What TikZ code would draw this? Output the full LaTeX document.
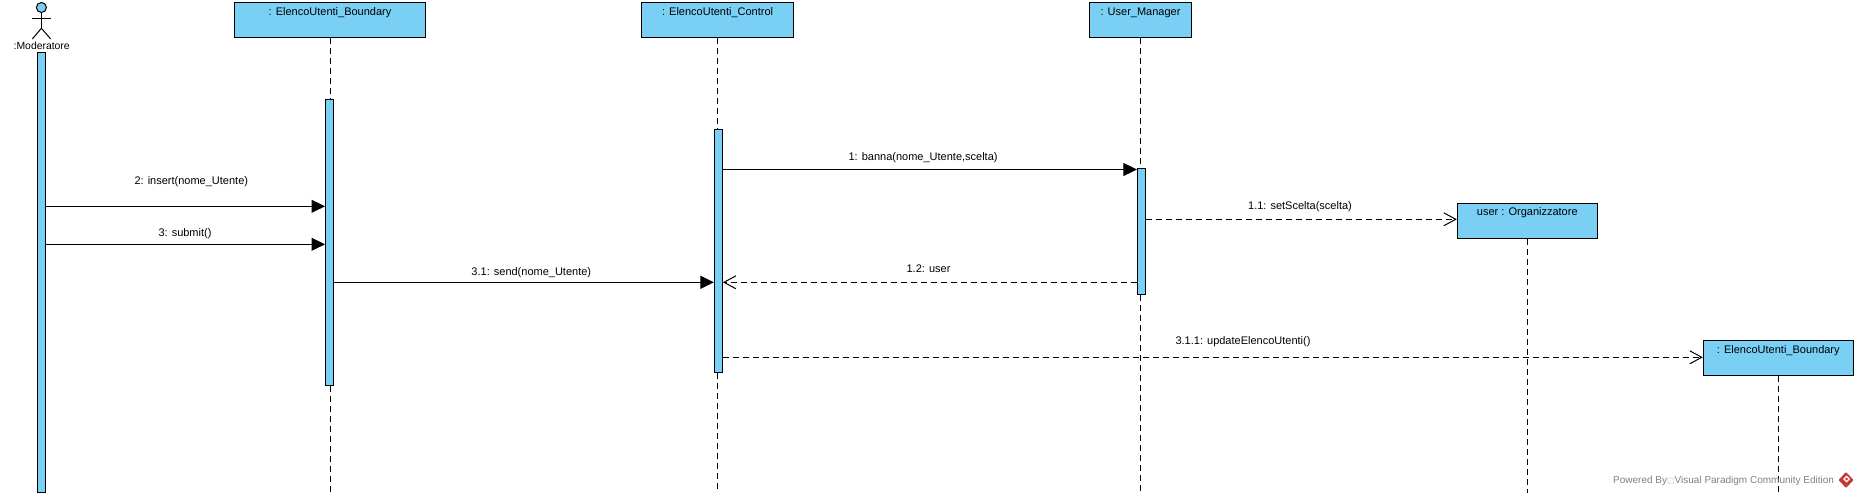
\documentclass[tikz,border=0pt]{standalone}
\usepackage{fontspec}
\setmainfont{Liberation Sans}
\newfontfamily\boxfont{DejaVu Sans}
\usetikzlibrary{arrows.meta}
\definecolor{vpblue}{RGB}{122,207,245}
\definecolor{vpgray}{RGB}{128,128,128}
\definecolor{vpred}{RGB}{200,55,55}
\tikzset{every picture/.style={line width=1pt}}
\tikzset{
  lifebox/.style={draw=black,fill=vpblue,inner sep=0pt,anchor=north,text height=12.2pt,text depth=22.6pt,font=\fontsize{11}{13}\selectfont},
  lifeline/.style={draw=black,dash pattern={on 6pt off 4pt}},
  activation/.style={draw=black,fill=vpblue,inner sep=0pt,minimum width=8pt,anchor=north},
  msgtext/.style={inner sep=0pt,font=\fontsize{11}{13}\selectfont},
  syncmsg/.style={-{Triangle[length=13.5pt,width=13pt]}},
  replymsg/.style={dash pattern={on 6pt off 4pt},-{Straight Barb[length=12pt,width=13pt]}}
}

\begin{document}
\begin{tikzpicture}[x=1pt,y=1pt,yscale=-1,xscale=1]
\useasboundingbox (0,0) rectangle (1858,497);

% Rows of the messages
\coordinate (rowBanna) at (0,169.5);
\coordinate (rowScelta) at (0,219.3);
\coordinate (rowInsert) at (0,206.3);
\coordinate (rowSubmit) at (0,244.3);
\coordinate (rowSend) at (0,282.3);
\coordinate (rowUpdate) at (0,357.3);
\coordinate (pageEnd) at (0,493);

%Shape: Actor
\node (modHead) [circle,draw=black,fill=vpblue,inner sep=0pt,minimum size=10pt] at (41.4,7.5) {};
\coordinate (modHip) at (41.4,28.3);
\coordinate (modArmL) at (32.3,18.3);
\coordinate (modArmR) at (50.7,18.3);
\coordinate (modFootL) at (32.3,39);
\coordinate (modFootR) at (50.7,39);
\draw (modHead.south) -- (modHip);
\draw (modArmL) -- (modArmR);
\draw (modFootL) -- (modHip) -- (modFootR);
% Text Node
\node (modText) [msgtext,font=\fontsize{10.4}{13}\selectfont] at (41.7,45.5) {:Moderatore};

%Shape: Lifeline heads
\node (boundary) [lifebox,minimum width=191pt] at (330,2.4) {: ElencoUtenti\_Boundary};
\node (control) [lifebox,minimum width=151.5pt] at (717.6,2.4) {: ElencoUtenti\_Control};
\node (manager) [lifebox,minimum width=102pt] at (1140.5,2.4) {: User\_Manager};
\node (organizer) [lifebox,minimum width=140pt] at (1527.3,203.3) {user : Organizzatore};
\node (boundaryTwo) [lifebox,minimum width=150pt] at (1778.3,340.3) {: ElencoUtenti\_Boundary};

%Shape: Activations
\node (modAct) [activation,minimum height=439.5pt] at (41.5,52.5) {};
\node (boundaryAct) [activation,minimum height=285.2pt] at (329.5,99.3) {};
\node (controlAct) [activation,minimum height=243pt] at (718.4,129.3) {};
\node (managerAct) [activation,minimum height=126pt] at (1141.4,168.3) {};

%Straight Lines
\draw [lifeline] (boundary.south) -- (boundaryAct.north -| boundary.south);
\draw [lifeline] (boundaryAct.south -| boundary.south) -- (boundary.south |- pageEnd);
\draw [lifeline] (control.south) -- (controlAct.north -| control.south);
\draw [lifeline] (controlAct.south -| control.south) -- (control.south |- pageEnd);
\draw [lifeline] (manager.south) -- (managerAct.north -| manager.south);
\draw [lifeline] (managerAct.south -| manager.south) -- (manager.south |- pageEnd);
\draw [lifeline] (organizer.south) -- (organizer.south |- pageEnd);
\draw [lifeline] (boundaryTwo.south) -- (boundaryTwo.south |- pageEnd);

%Straight Lines
\draw [syncmsg] (controlAct.east |- rowBanna) -- (managerAct.west |- rowBanna);
\draw [syncmsg] (modAct.east |- rowInsert) -- (boundaryAct.west |- rowInsert);
\draw [syncmsg] (modAct.east |- rowSubmit) -- (boundaryAct.west |- rowSubmit);
\draw [syncmsg] (boundaryAct.east |- rowSend) -- (controlAct.west |- rowSend);
\draw [replymsg] (managerAct.east |- rowScelta) -- (organizer.west |- rowScelta);
\draw [replymsg] (managerAct.west |- rowSend) -- (controlAct.east |- rowSend);
\draw [replymsg] (controlAct.east |- rowUpdate) -- (boundaryTwo.west |- rowUpdate);

% Text Node
\node (bannaText) [msgtext] at (923.1,157.5) {1: banna(nome\_Utente,scelta)};
% Text Node
\node (sceltaText) [msgtext] at (1300,207) {1.1: setScelta(scelta)};
% Text Node
\node (userText) [msgtext] at (928.5,269) {1.2: user};
% Text Node
\node (insertText) [msgtext] at (191.3,181.5) {2: insert(nome\_Utente)};
% Text Node
\node (submitText) [msgtext] at (185,233.5) {3: submit()};
% Text Node
\node (sendText) [msgtext] at (531.3,273) {3.1: send(nome\_Utente)};
% Text Node
\node (updateText) [msgtext] at (1243,341.5) {3.1.1: updateElencoUtenti()};
% Text Node
\node (poweredText) [inner sep=0pt,font=\fontsize{10}{12}\selectfont,text=vpgray,anchor=east] at (1834.5,480.7) {Powered By{\boxfont\fontsize{8}{9}\selectfont\color{lightgray} □}Visual Paradigm Community Edition};

%Shape: Logo
\fill [vpred,rounded corners=1pt] (1846,472) -- (1853.5,480) -- (1846,488) -- (1838.5,480) -- cycle;
\fill [white] (1846.5,475.5) -- (1850,479) -- (1846.5,482.5) -- (1843,479) -- cycle;
\fill [vpred] (1846.5,477.5) -- (1848,479) -- (1846.5,480.5) -- (1845,479) -- cycle;

\end{tikzpicture}
\end{document}
